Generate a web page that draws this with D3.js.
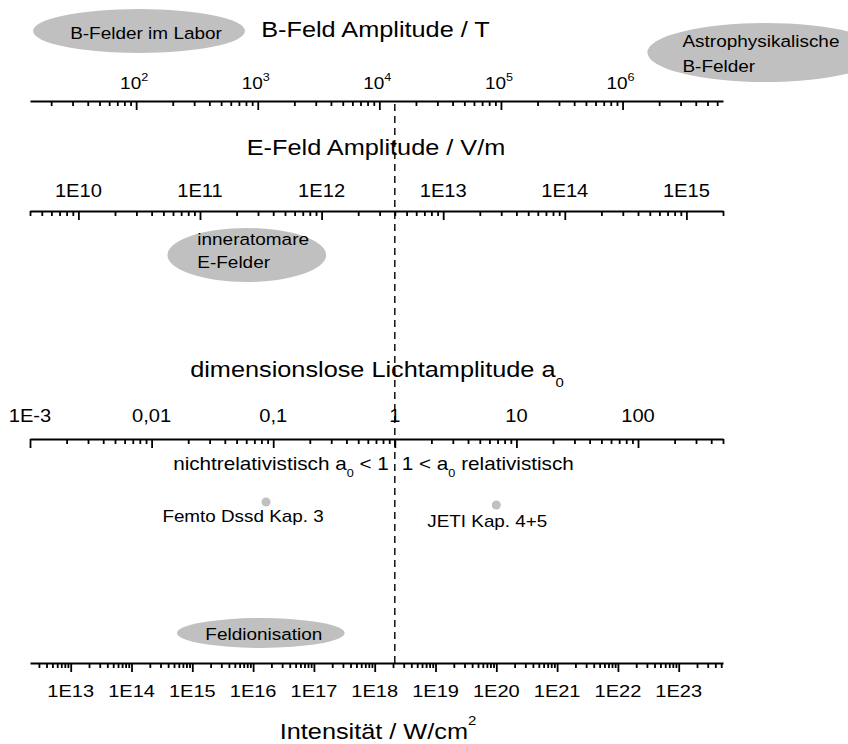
<!DOCTYPE html>
<html>
<head>
<meta charset="utf-8">
<script src="https://cdn.jsdelivr.net/npm/d3@7"></script>
<style>
  body { margin: 0; background: #fff; }
  text { font-family: "Liberation Sans", Arial, sans-serif; fill: #000; }
</style>
</head>
<body>
<div id="chart"></div>
<script>
// axis data (domains)
const B_DOMAIN = [13.4, 6.7e6];
const E_DOMAIN = [4.0e9, 2.0e15];
const A0_DOMAIN = [1e-3, 500];
const I_DOMAIN = [2.14e12, 5.35e23];

// labelled ticks
const B_TICKS = [1e2, 1e3, 1e4, 1e5, 1e6];
const B_EXPONENTS = ["2", "3", "4", "5", "6"];
const E_TICKS = [1e10, 1e11, 1e12, 1e13, 1e14, 1e15];
const E_LABELS = ["1E10", "1E11", "1E12", "1E13", "1E14", "1E15"];
const A0_TICKS = [1e-3, 1e-2, 1e-1, 1, 10, 100];
const A0_LABELS = ["1E-3", "0,01", "0,1", "1", "10", "100"];
const I_TICKS = [1e13, 1e14, 1e15, 1e16, 1e17, 1e18, 1e19, 1e20, 1e21, 1e22, 1e23];
const I_LABELS = ["1E13", "1E14", "1E15", "1E16", "1E17", "1E18", "1E19", "1E20", "1E21", "1E22", "1E23"];

// experiments (intensity in W/cm^2)
const EXP_NAMES = ["Femto Dssd Kap. 3", "JETI Kap. 4+5"];
const EXP_INTENSITY = [1.63e16, 1.0e20];

// shaded regions, given in units of their axis
const REGION_NAMES = [["B-Felder im Labor"], ["Astrophysikalische", "B-Felder"], ["inneratomare", "E-Felder"], ["Feldionisation"]];
const REGION_AXIS = ["B", "B", "E", "I"];
const REGION_FROM = [14.2, 1.6e6, 5.4e10, 5.6e14];
const REGION_TO = [785, 1.4e8, 1.09e12, 3.2e17];

// relativistic threshold a0 = 1
const A0_THRESHOLD = 1;

// layout
const WIDTH = 848, HEIGHT = 744;
const X_LEFT = 30, X_RIGHT = 723;
const B_Y = 101, E_Y = 211, A0_Y = 439, I_Y = 663;
const MAJOR_LEN = 9, MINOR_LEN = 5;
const SX = 1.15;   // text in the picture is slightly stretched
const GREY = "#c0c0c0";

const svg = d3.select("#chart").append("svg")
    .attr("width", WIDTH)
    .attr("height", HEIGHT);

const SCALES = {
    B: d3.scaleLog().domain(B_DOMAIN).range([X_LEFT, X_RIGHT]),
    E: d3.scaleLog().domain(E_DOMAIN).range([X_LEFT, X_RIGHT]),
    A0: d3.scaleLog().domain(A0_DOMAIN).range([X_LEFT, X_RIGHT]),
    I: d3.scaleLog().domain(I_DOMAIN).range([X_LEFT, X_RIGHT])
};
const AXIS_Y = {B: B_Y, E: E_Y, A0: A0_Y, I: I_Y};

function isMajor(d) {
    const l = Math.log10(d);
    return Math.abs(l - Math.round(l)) < 1e-6;
}

function addText(parent, x, y, size, anchor) {
    return parent.append("text")
        .attr("transform", "translate(" + x + "," + y + ") scale(" + SX + ",1)")
        .attr("font-size", size)
        .attr("text-anchor", anchor || "middle");
}

// regions (drawn first so axes sit on top)
const REGION_LAYOUT = [
    {cy: 31, ry: 22, tx: 7, ty: [39], anchor: "middle"},
    {cy: 52.5, ry: 29.5, tx: -83, ty: [47, 72], anchor: "start"},
    {cy: 255, ry: 27, tx: -49.5, ty: [245, 268], anchor: "start"},
    {cy: 633, ry: 15, tx: 3, ty: [640], anchor: "middle"}
];
REGION_NAMES.forEach((lines, i) => {
    const sc = SCALES[REGION_AXIS[i]];
    const x0 = sc(REGION_FROM[i]), x1 = sc(REGION_TO[i]);
    const cx = (x0 + x1) / 2;
    const lay = REGION_LAYOUT[i];
    svg.append("ellipse")
        .attr("cx", cx)
        .attr("cy", lay.cy)
        .attr("rx", (x1 - x0) / 2)
        .attr("ry", lay.ry)
        .attr("fill", GREY);
    lines.forEach((line, j) => {
        addText(svg, cx + lay.tx, lay.ty[j], 16.5, lay.anchor).text(line);
    });
});

// dashed line at a0 = 1
svg.append("line")
    .attr("x1", SCALES.A0(A0_THRESHOLD))
    .attr("x2", SCALES.A0(A0_THRESHOLD))
    .attr("y1", B_Y + 3)
    .attr("y2", I_Y)
    .attr("stroke", "#000")
    .attr("stroke-width", 1.4)
    .attr("stroke-dasharray", "7,5");

// axes, ticks hang below the line
function drawAxis(key) {
    const sc = SCALES[key];
    const g = svg.append("g")
        .attr("transform", "translate(0," + AXIS_Y[key] + ")")
        .call(d3.axisBottom(sc)
            .tickValues(sc.ticks(40))
            .tickSize(MAJOR_LEN)
            .tickSizeOuter(0)
            .tickFormat(""));
    g.select(".domain").attr("stroke-width", 2);
    g.selectAll(".tick line")
        .attr("stroke-width", 1.8)
        .attr("y2", d => isMajor(d) ? MAJOR_LEN : MINOR_LEN);
    return g;
}
["B", "E", "A0", "I"].forEach(drawAxis);

// B axis labels
B_TICKS.forEach((v, i) => {
    const t = addText(svg, SCALES.B(v) - 2, 89, 16.5);
    t.append("tspan").text("10");
    t.append("tspan").attr("font-size", 11).attr("dy", -8).text(B_EXPONENTS[i]);
});
addText(svg, 375.5, 37, 22).text("B-Feld Amplitude / T");

// E axis labels
E_TICKS.forEach((v, i) => {
    addText(svg, SCALES.E(v), 197, 17.5).text(E_LABELS[i]);
});
addText(svg, 376, 155, 22).text("E-Feld Amplitude / V/m");

// a0 axis labels
A0_TICKS.forEach((v, i) => {
    addText(svg, SCALES.A0(v), 422, 17.5).text(A0_LABELS[i]);
});
const a0Title = addText(svg, 377, 377, 22);
a0Title.append("tspan").text("dimensionslose Lichtamplitude a");
a0Title.append("tspan").attr("font-size", 13).attr("dy", 10).text("0");

// regime labels either side of a0 = 1
const xThr = SCALES.A0(A0_THRESHOLD);
const nonRel = addText(svg, xThr - 6, 470, 18, "end");
nonRel.append("tspan").text("nichtrelativistisch a");
nonRel.append("tspan").attr("font-size", 11).attr("dy", 7).text("0");
nonRel.append("tspan").attr("dy", -7).text(" < 1");
const rel = addText(svg, xThr + 7, 470, 18, "start");
rel.append("tspan").text("1 < a");
rel.append("tspan").attr("font-size", 11).attr("dy", 7).text("0");
rel.append("tspan").attr("dy", -7).text(" relativistisch");

// intensity axis labels
I_TICKS.forEach((v, i) => {
    addText(svg, SCALES.I(v), 697, 17.4).text(I_LABELS[i]);
});
const iTitle = addText(svg, 378, 739, 22);
iTitle.append("tspan").text("Intensität / W/cm");
iTitle.append("tspan").attr("font-size", 13).attr("dy", -14).text("2");

// experiments
const EXP_LAYOUT = [{py: 502, ty: 522, tx: -23}, {py: 505, ty: 527, tx: -9}];
EXP_NAMES.forEach((name, i) => {
    const x = SCALES.I(EXP_INTENSITY[i]);
    svg.append("circle")
        .attr("cx", x)
        .attr("cy", EXP_LAYOUT[i].py)
        .attr("r", 4.5)
        .attr("fill", GREY);
    addText(svg, x + EXP_LAYOUT[i].tx, EXP_LAYOUT[i].ty, 16.4).text(name);
});
</script>
</body>
</html>
